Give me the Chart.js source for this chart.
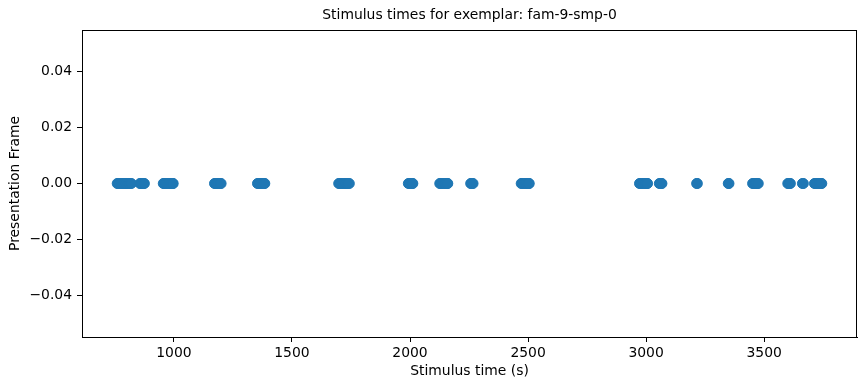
<!DOCTYPE html>
<html>
<head>
<meta charset="utf-8">
<script src="https://cdn.jsdelivr.net/npm/chart.js@4/dist/chart.umd.min.js"></script>
<style>
  html, body { margin: 0; padding: 0; background: #fff; }
  #wrap { width: 866px; height: 390px; position: relative; }
</style>
</head>
<body>
<div id="wrap"><canvas id="c"></canvas></div>
<script>
// ---- data ----
const titleText = "Stimulus times for exemplar: fam-9-smp-0";
const xLabel = "Stimulus time (s)";
const yLabel = "Presentation Frame";

const stimulusTimes = [
  760, 764, 768, 772, 776, 780, 784, 788, 792, 796, 800, 804, 808, 812, 816, 820,
  856, 860, 864, 868, 872, 875,
  955, 959, 963, 967, 971, 975, 979, 983, 987, 991, 995, 997,
  1172, 1176, 1180, 1184, 1188, 1192, 1196, 1200,
  1354, 1358, 1362, 1366, 1370, 1374, 1378, 1382, 1385,
  1698, 1702, 1706, 1710, 1714, 1718, 1722, 1726, 1730, 1734, 1738, 1743,
  1993, 1997, 2001, 2005, 2009, 2012,
  2126, 2130, 2134, 2138, 2142, 2146, 2150, 2154, 2158, 2160,
  2257, 2260, 2263, 2267,
  2471, 2475, 2479, 2483, 2487, 2491, 2495, 2499, 2503, 2505,
  2972, 2976, 2980, 2984, 2988, 2992, 2996, 3000, 3004, 3006,
  3056, 3060, 3064, 3067,
  3214, 3217,
  3348, 3351,
  3451, 3455, 3459, 3463, 3467, 3471, 3475,
  3600, 3604, 3608, 3611,
  3662, 3666,
  3713, 3717, 3721, 3725, 3729, 3733, 3737, 3741, 3744
];
const presentationFrame = 0;

const xTicks = [1000, 1500, 2000, 2500, 3000, 3500];
const yTicks = [-0.04, -0.02, 0.00, 0.02, 0.04];
const xRange = [610.8, 3893.2];
const yRange = [-0.055, 0.055];

// ---- chart ----
const FONT = "'DejaVu Sans', sans-serif";
const FS = 13.9;
Chart.defaults.color = '#000';
Chart.defaults.font.family = FONT;
Chart.defaults.font.size = FS;

const points = stimulusTimes.map(t => ({ x: t, y: presentationFrame }));

const framePlugin = {
  id: 'frame',
  afterDraw(chart) {
    const { ctx, chartArea: a } = chart;
    ctx.save();
    ctx.strokeStyle = '#000';
    ctx.lineWidth = 1;
    ctx.strokeRect(Math.round(a.left) + 0.5, Math.round(a.top) + 0.5,
                   Math.round(a.right - a.left) - 1, Math.round(a.bottom - a.top));
    ctx.fillStyle = '#000';
    ctx.font = FS + 'px ' + FONT;
    ctx.textAlign = 'center';
    ctx.textBaseline = 'middle';
    ctx.fillText(titleText, (a.left + a.right) / 2, 15);
    ctx.restore();
  }
};

const fmtY = v => {
  const s = Math.abs(v).toFixed(2);
  return v < -1e-9 ? '\u2212' + s : s;
};

new Chart(document.getElementById('c'), {
  type: 'scatter',
  data: {
    datasets: [{
      data: points,
      backgroundColor: '#1f77b4',
      borderColor: '#1f77b4',
      pointRadius: 5,
      pointHoverRadius: 5,
      borderWidth: 1
    }]
  },
  options: {
    responsive: true,
    maintainAspectRatio: false,
    animation: false,
    layout: { padding: { left: 0, right: 9, top: 30, bottom: 0 } },
    plugins: { legend: { display: false }, tooltip: { enabled: false }, title: { display: false } },
    scales: {
      x: {
        type: 'linear',
        min: xRange[0], max: xRange[1],
        afterBuildTicks: s => { s.ticks = xTicks.map(v => ({ value: v })); },
        afterFit: s => { s.height = 53; },
        grid: { drawOnChartArea: false, drawTicks: true, tickLength: 5, tickColor: '#000' },
        border: { display: true, color: '#000', width: 1 },
        ticks: { padding: 3, maxRotation: 0, callback: v => String(v), color: '#000' },
        title: { display: true, text: xLabel, padding: { top: 0, bottom: 10 }, color: '#000' }
      },
      y: {
        type: 'linear',
        min: yRange[0], max: yRange[1],
        afterBuildTicks: s => { s.ticks = yTicks.map(v => ({ value: v })); },
        afterFit: s => { s.width = 82; },
        grid: { drawOnChartArea: false, drawTicks: true, tickLength: 5, tickColor: '#000' },
        border: { display: true, color: '#000', width: 1 },
        ticks: { padding: 5, callback: v => fmtY(v), color: '#000' },
        title: { display: true, text: yLabel, padding: { top: 7, bottom: 0 }, color: '#000' }
      }
    }
  },
  plugins: [framePlugin]
});
</script>
</body>
</html>
